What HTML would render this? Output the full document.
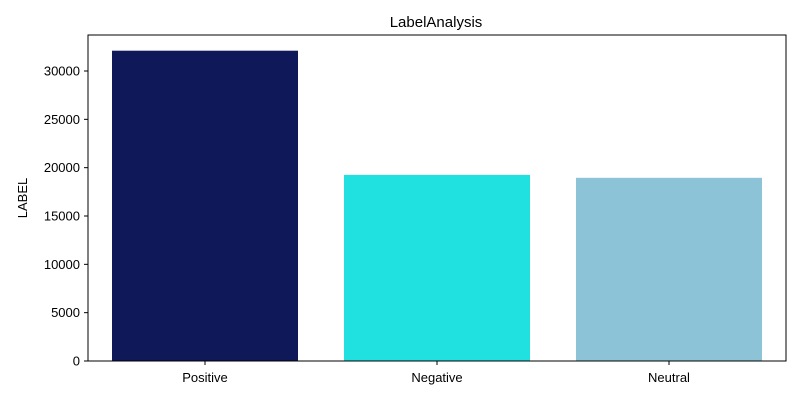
<!DOCTYPE html>
<html><head><meta charset="utf-8"><style>
body{margin:0;background:#fff;}
svg text{font-family:"Liberation Sans","DejaVu Sans",sans-serif;fill:#000;}
</style></head><body>
<svg width="800" height="400" xmlns="http://www.w3.org/2000/svg">
<rect width="800" height="400" fill="#fff"/>
<text x="436" y="27" font-size="15" text-anchor="middle">LabelAnalysis</text>
<text transform="translate(27,198) rotate(-90)" font-size="13" text-anchor="middle">LABEL</text>
<g id="bars"></g><g id="yticks"></g><g id="xticks"></g>
<rect x="88" y="35" width="698" height="326" fill="none" stroke="#000" stroke-width="1"/>
</svg>
<script>
const categories = ["Positive","Negative","Neutral"];
const values = [32100, 19250, 18950];
const colors = ["#0f1859","#20e0e0","#8cc3d6"];
const yTicks = [0,5000,10000,15000,20000,25000,30000];
const NS="http://www.w3.org/2000/svg";
const y0=361, pxPer=290/30000;
function yScale(v){return y0 - v*pxPer;}
function xCenter(i){return 205 + i*232;}
const bw=186;
const bars=document.getElementById('bars');
categories.forEach((c,i)=>{
  const r=document.createElementNS(NS,'rect');
  r.setAttribute('x',xCenter(i)-bw/2);
  r.setAttribute('y',yScale(values[i]));
  r.setAttribute('width',bw);
  r.setAttribute('height',y0-yScale(values[i]));
  r.setAttribute('fill',colors[i]);
  
  
  bars.appendChild(r);
  const t=document.createElementNS(NS,'line');
  t.setAttribute('x1',xCenter(i));t.setAttribute('x2',xCenter(i));
  t.setAttribute('y1',361);t.setAttribute('y2',365);t.setAttribute('stroke','#000');
  
  
  document.getElementById('xticks').appendChild(t);
  const l=document.createElementNS(NS,'text');
  l.setAttribute('x',xCenter(i));l.setAttribute('y',382);
  l.setAttribute('font-size','13');l.setAttribute('text-anchor','middle');
  l.textContent=c;
  
  
  document.getElementById('xticks').appendChild(l);
});
const yg=document.getElementById('yticks');
yTicks.forEach(v=>{
  const y=yScale(v);
  const t=document.createElementNS(NS,'line');
  t.setAttribute('x1',84);t.setAttribute('x2',88);t.setAttribute('y1',y);t.setAttribute('y2',y);t.setAttribute('stroke','#000');
  
  
  yg.appendChild(t);
  const l=document.createElementNS(NS,'text');
  l.setAttribute('x',80);l.setAttribute('y',y+4.5);
  l.setAttribute('font-size','13');l.setAttribute('text-anchor','end');
  l.textContent=v;
  
  
  yg.appendChild(l);
});
</script>
</body></html>
